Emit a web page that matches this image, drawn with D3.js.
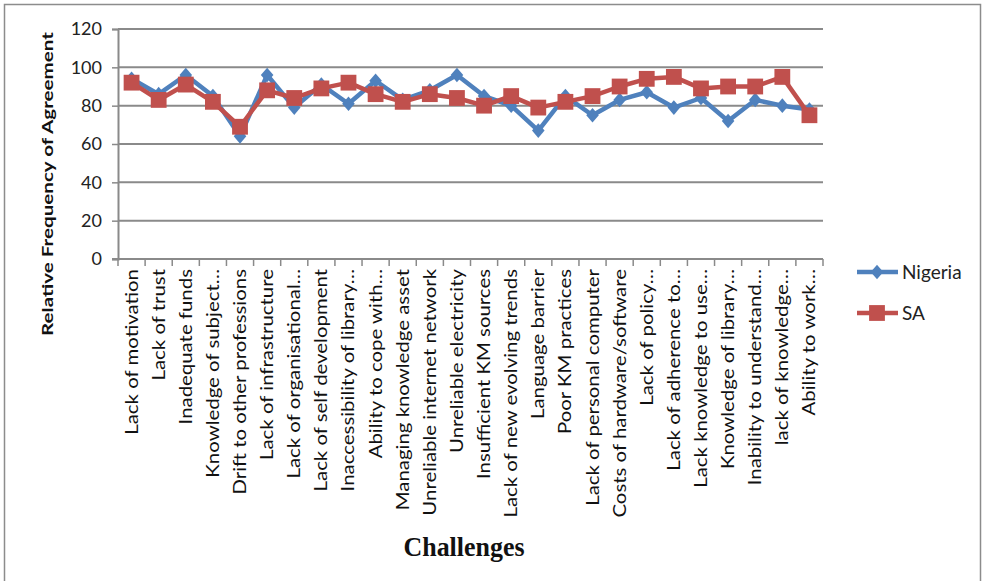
<!DOCTYPE html>
<html>
<head>
<meta charset="utf-8">
<script src="https://cdn.jsdelivr.net/npm/d3@7/dist/d3.min.js"></script>
<style>
  html, body { margin: 0; padding: 0; background: #fff; }
  svg { display: block; }
</style>
</head>
<body>
<svg id="chart" width="985" height="581"></svg>
<script>
// Challenges of knowledge management: relative frequency of agreement (%)
const categories = [
  "Lack of motivation",
  "Lack of trust",
  "Inadequate funds",
  "Knowledge of subject…",
  "Drift to other professions",
  "Lack of infrastructure",
  "Lack of organisational…",
  "Lack of self development",
  "Inaccessibility of library…",
  "Ability to cope with…",
  "Managing knowledge asset",
  "Unreliable internet network",
  "Unreliable electricity",
  "Insufficient KM sources",
  "Lack of new evolving trends",
  "Language barrier",
  "Poor KM practices",
  "Lack of personal computer",
  "Costs of hardware/software",
  "Lack of policy…",
  "Lack of adherence to…",
  "Lack knowledge to use…",
  "Knowledge of library…",
  "Inability to understand…",
  "lack of knowledge…",
  "Ability to work…"
];

const nigeria = [94, 86, 96, 85, 64, 96, 79, 91, 81, 93, 83, 88, 96, 85, 80, 67, 85, 75, 83, 87, 79, 84, 72, 83, 80, 78];
const sa      = [92, 83, 91, 82, 69, 88, 84, 89, 92, 86, 82, 86, 84, 80, 85, 79, 82, 85, 90, 94, 95, 89, 90, 90, 95, 75];

const yTicks = [0, 20, 40, 60, 80, 100, 120];

const seriesNames = ["Nigeria", "SA"];
const seriesColors = ["#4F81BD", "#C0504D"];

const svg = d3.select("#chart");
const sansFont = "Lato, 'Open Sans', 'DejaVu Sans', sans-serif";

// outer chart frame
svg.append("rect")
  .attr("x", 4.5).attr("y", 4.5)
  .attr("width", 976).attr("height", 600)
  .attr("fill", "none").attr("stroke", "#8c8c8c").attr("stroke-width", 1.5);

const plot = { left: 118, right: 823, top: 29, bottom: 259 };

const x = d3.scaleBand().domain(categories).range([plot.left, plot.right]).padding(0);
const y = d3.scaleLinear().domain([0, 120]).range([plot.bottom, plot.top]);
const cx = d => x(d) + x.bandwidth() / 2;

// horizontal gridlines
svg.append("g")
  .selectAll("line")
  .data(yTicks.filter(t => t > 0))
  .join("line")
  .attr("x1", plot.left).attr("x2", plot.right)
  .attr("y1", d => y(d)).attr("y2", d => y(d))
  .attr("stroke", "#8a8a8a").attr("stroke-width", 2);

// y axis
const yAxis = svg.append("g")
  .attr("transform", `translate(${plot.left},0)`)
  .call(d3.axisLeft(y).tickValues(yTicks).tickSize(6).tickPadding(10).tickFormat(d3.format("d")));
yAxis.select(".domain").attr("stroke", "#8a8a8a").attr("stroke-width", 2);
yAxis.selectAll(".tick line").attr("stroke", "#8a8a8a").attr("stroke-width", 1.5);
yAxis.selectAll(".tick text")
  .attr("font-family", sansFont).attr("font-size", 18).attr("fill", "#222");

// x axis baseline and category boundary ticks
svg.append("line")
  .attr("x1", plot.left - 6).attr("x2", plot.right)
  .attr("y1", plot.bottom).attr("y2", plot.bottom)
  .attr("stroke", "#8a8a8a").attr("stroke-width", 2);
svg.append("g")
  .selectAll("line")
  .data(categories.map(c => x(c)).concat([plot.right]))
  .join("line")
  .attr("x1", d => d).attr("x2", d => d)
  .attr("y1", plot.bottom).attr("y2", plot.bottom + 7)
  .attr("stroke", "#8a8a8a").attr("stroke-width", 1.5);

// rotated category labels (slightly elongated along the reading direction)
svg.append("g")
  .selectAll("text")
  .data(categories)
  .join("text")
  .attr("transform", d => `translate(${cx(d) + 6},${plot.bottom + 10}) rotate(-90) scale(1.2,1)`)
  .attr("text-anchor", "end")
  .attr("font-family", sansFont).attr("font-size", 17).attr("fill", "#111")
  .text(d => d);

// marker shapes
const diamondType = {
  draw(ctx, size) {
    const w = Math.sqrt(size) * 0.6, h = Math.sqrt(size) * 0.7;
    ctx.moveTo(0, -h); ctx.lineTo(w, 0); ctx.lineTo(0, h); ctx.lineTo(-w, 0); ctx.closePath();
  }
};
const diamond = d3.symbol().type(diamondType).size(110);
const square = d3.symbol().type(d3.symbolSquare).size(250);

// series lines and markers
const line = d3.line().x((d, i) => cx(categories[i])).y(d => y(d));

[nigeria, sa].forEach((vals, k) => {
  svg.append("path")
    .datum(vals)
    .attr("d", line)
    .attr("fill", "none")
    .attr("stroke", seriesColors[k]).attr("stroke-width", 4.5)
    .attr("stroke-linejoin", "round");
  svg.append("g")
    .selectAll("path")
    .data(vals)
    .join("path")
    .attr("transform", (d, i) => `translate(${cx(categories[i])},${y(d)})`)
    .attr("d", k === 0 ? diamond : square)
    .attr("fill", seriesColors[k]);
});

// legend
const legend = svg.append("g");
seriesNames.forEach((name, k) => {
  const ly = 272 + k * 41;
  legend.append("line")
    .attr("x1", 857).attr("x2", 898).attr("y1", ly).attr("y2", ly)
    .attr("stroke", seriesColors[k]).attr("stroke-width", 4.5);
  legend.append("path")
    .attr("transform", `translate(877,${ly})`)
    .attr("d", k === 0 ? diamond : square)
    .attr("fill", seriesColors[k]);
  legend.append("text")
    .attr("x", 902).attr("y", ly).attr("dy", "0.36em")
    .attr("font-family", sansFont).attr("font-size", 19).attr("fill", "#222")
    .text(name);
});

// axis titles
svg.append("text")
  .attr("transform", "translate(53,184) rotate(-90)")
  .attr("text-anchor", "middle")
  .attr("font-family", sansFont).attr("font-size", 16).attr("font-weight", "bold").attr("fill", "#111")
  .attr("textLength", 304).attr("lengthAdjust", "spacingAndGlyphs")
  .text("Relative Frequency of Agreement");

svg.append("text")
  .attr("x", 464).attr("y", 556)
  .attr("text-anchor", "middle")
  .attr("font-family", "'Liberation Serif', 'DejaVu Serif', serif")
  .attr("font-size", 27).attr("font-weight", "bold").attr("fill", "#111")
  .attr("textLength", 121).attr("lengthAdjust", "spacingAndGlyphs")
  .text("Challenges");
</script>
</body>
</html>
